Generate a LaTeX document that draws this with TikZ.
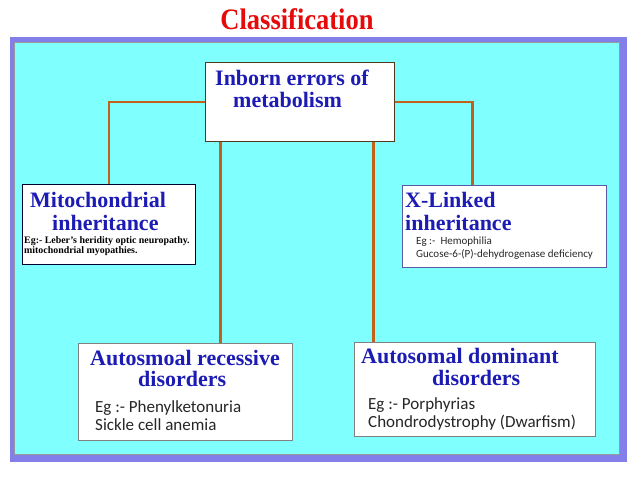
\documentclass[tikz,border=0pt]{standalone}
\usepackage{fontspec}
\setmainfont{Liberation Serif}
\newfontfamily\exfont{Carlito}
\definecolor{purp}{RGB}{130,128,232}
\definecolor{cyanbg}{RGB}{128,255,255}
\definecolor{headblue}{RGB}{28,28,180}
\definecolor{linkcol}{RGB}{192,98,26}
\definecolor{titlered}{RGB}{230,10,10}
\definecolor{exgray}{RGB}{40,40,40}
\tikzset{
  box/.style={draw=#1, line width=0.9pt, fill=white, anchor=north west, inner sep=0pt},
  box/.default={black!70},
  head/.style={anchor=base west, inner sep=0pt, text=headblue, font=\fontsize{22}{24}\selectfont\bfseries},
  smallser/.style={anchor=base west, inner sep=0pt, text=black, font=\fontsize{9.9}{10}\selectfont\bfseries},
  exsmall/.style={anchor=base west, inner sep=0pt, text=exgray, font=\exfont\fontsize{11}{12}\selectfont},
  exbig/.style={anchor=base west, inner sep=0pt, text=black!85, font=\exfont\fontsize{17}{18}\selectfont},
  link/.style={draw=linkcol, line width=2.2pt}
}
\begin{document}
\begin{tikzpicture}[x=1pt,y=-1pt]
\useasboundingbox (0,0) rectangle (638,479);
\fill[white] (0,0) rectangle (638,479);
% frame
\fill[purp] (10,37) rectangle (627,462);
\filldraw[fill=cyanbg, draw=gray!80, line width=0.6pt] (14,42) rectangle (619,454);
% title
\node[anchor=base, inner sep=0pt, text=titlered, font=\fontsize{26.5}{28}\selectfont\bfseries] (title) at (297,30) {\scalebox{1}[1.12]{Classification}};
% boxes
\node[box={black!55!brown}, minimum width=189pt, minimum height=79pt] (top) at (205,62) {};
\node[box={black!80!blue}, minimum width=173pt, minimum height=80pt] (mito) at (22,184) {};
\node[box={gray!70!blue}, minimum width=204pt, minimum height=82pt] (xl) at (402,185) {};
\node[box={gray}, minimum width=214pt, minimum height=97pt] (rec) at (78,343) {};
\node[box={gray}, minimum width=241pt, minimum height=94pt] (dom) at (354,342) {};
% connectors
\coordinate (xlin) at ([xshift=-32pt]xl.north);
\coordinate (recin) at ([xshift=35pt]rec.north);
\coordinate (domin) at ([xshift=-101.5pt]dom.north);
\draw[link] (top.west) -| (mito.north);
\draw[link] (top.east) -| (xlin);
\draw[link] (recin |- top.south) -- (recin);
\draw[link] (domin |- top.south) -- (domin);
% texts
\node[head] (t1) at (215,85) {Inborn errors of};
\node[head] (t2) at (233,107) {metabolism};
\node[head] (m1) at (30,207) {Mitochondrial};
\node[head] (m2) at (52,230) {inheritance};
\node[smallser] (m3) at (24,243) {Eg:- Leber's heridity optic neuropathy.};
\node[smallser] (m4) at (24,253) {mitochondrial myopathies.};
\node[head] (x1) at (405,207) {X-Linked};
\node[head] (x2) at (405,230) {inheritance};
\node[exsmall] (x3) at (416,244) {Eg :-\ \ Hemophilia};
\node[exsmall] (x4) at (416,257) {Gucose-6-(P)-dehydrogenase deficiency};
\node[head] (r1) at (90,365) {Autosmoal recessive};
\node[head] (r2) at (138,386) {disorders};
\node[exbig] (r3) at (95,412) {Eg :- Phenylketonuria};
\node[exbig] (r4) at (95,430) {Sickle cell anemia};
\node[head] (d1) at (361,363) {Autosomal dominant};
\node[head] (d2) at (432,385) {disorders};
\node[exbig] (d3) at (368,409) {Eg :- Porphyrias};
\node[exbig] (d4) at (368,427) {Chondrodystrophy (Dwarfism)};
\end{tikzpicture}
\end{document}
